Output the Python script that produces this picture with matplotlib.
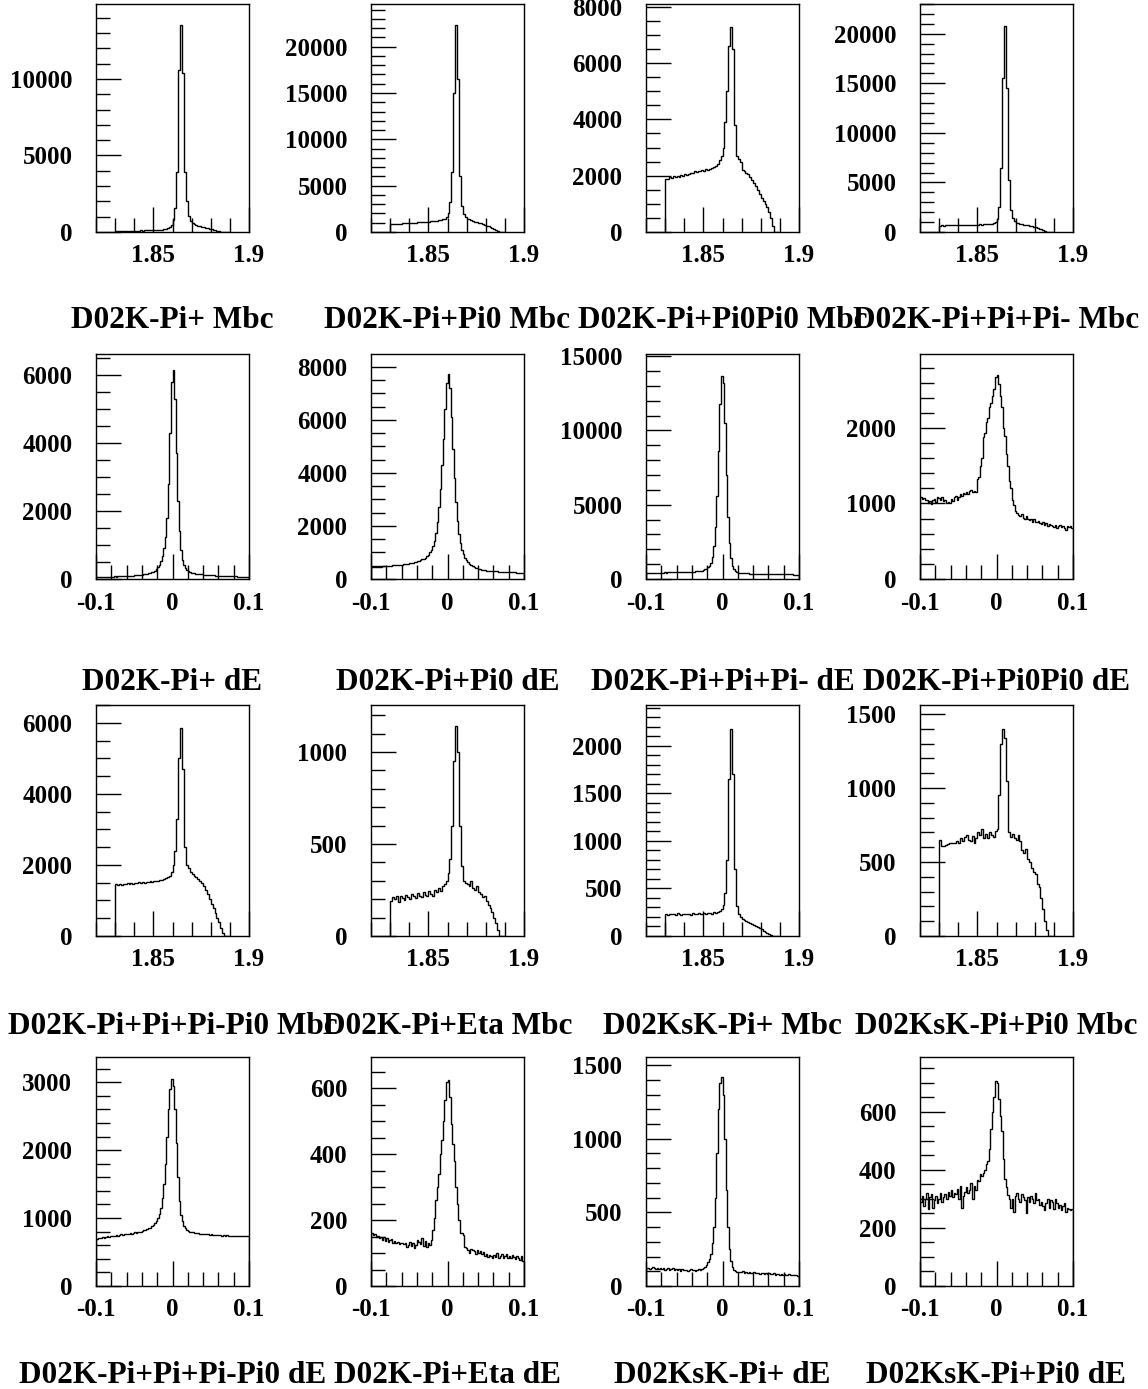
import numpy as np
import matplotlib
matplotlib.use('Agg')
import matplotlib.pyplot as plt
from matplotlib.ticker import MultipleLocator, FuncFormatter

plt.rcParams['font.family'] = 'Liberation Serif'
plt.rcParams['font.weight'] = 'bold'
plt.rcParams['axes.unicode_minus'] = False

# bin edges: Mbc 60 bins 1.83-1.89, dE 100 bins -0.1..0.1
mbc_edges = np.linspace(1.83, 1.89, 61)
de_edges = np.linspace(-0.1, 0.1, 101)

# ---- Mbc histograms (60 bins) ----
kpi_mbc = [70, 75, 70, 80, 75, 80, 85, 80, 90, 85,
           90, 95, 90, 100, 95, 105, 100, 110, 115, 120,
           125, 130, 140, 150, 160, 180, 200, 240, 300, 450,
           800, 1600, 3900, 10600, 13550, 10400, 3900, 2000, 1050, 700,
           600, 520, 460, 410, 370, 330, 300, 270, 240, 210,
           180, 150, 120, 90, 60, 30, 10, 0, 0, 0]
kpipi0_mbc = [850, 860, 880, 870, 900, 910, 920, 930, 950, 960,
              980, 990, 1000, 1020, 1030, 1050, 1060, 1080, 1100, 1120,
              1130, 1150, 1180, 1200, 1220, 1250, 1300, 1350, 1450, 1650,
              2100, 3200, 6500, 15000, 22300, 16500, 6000, 2800, 1900, 1600,
              1450, 1350, 1280, 1200, 1130, 1060, 990, 920, 850, 780,
              700, 620, 530, 430, 320, 200, 60, 0, 0, 0]
kpipi0pi0_mbc = [1870, 1900, 1950, 1930, 1980, 1960, 2000, 1970, 2010, 1990,
                 2050, 2030, 2050, 2100, 2080, 2150, 2130, 2180, 2150, 2200,
                 2170, 2230, 2200, 2250, 2280, 2300, 2350, 2400, 2550, 2700,
                 3000, 3900, 5000, 6600, 7300, 6500, 3800, 2700, 2600, 2500,
                 2200, 2150, 2100, 2050, 1950, 1850, 1750, 1650, 1500, 1350,
                 1200, 1100, 1000, 900, 700, 500, 200, 0, 0, 0]
k3pi_mbc = [650, 660, 650, 670, 660, 680, 670, 690, 680, 700,
            690, 700, 710, 700, 720, 710, 730, 720, 740, 730,
            750, 760, 750, 770, 780, 790, 800, 830, 880, 980,
            1300, 2500, 6500, 15500, 20800, 14500, 5200, 2200, 1400, 1100,
            950, 880, 830, 790, 750, 710, 670, 620, 570, 520,
            460, 400, 330, 260, 180, 100, 30, 0, 0, 0]
k3pipi0_mbc = [1450, 1430, 1460, 1440, 1470, 1450, 1480, 1460, 1490, 1470,
               1500, 1480, 1510, 1490, 1520, 1500, 1530, 1510, 1540, 1520,
               1550, 1540, 1560, 1570, 1580, 1600, 1620, 1650, 1700, 1800,
               2000, 2400, 3300, 5000, 5850, 4700, 2500, 2000, 1900, 1800,
               1750, 1700, 1650, 1600, 1540, 1480, 1400, 1300, 1180, 1050,
               900, 780, 650, 520, 380, 230, 80, 0, 0, 0]
kpieta_mbc = [190, 210, 200, 220, 185, 215, 205, 195, 225, 210,
              200, 230, 215, 205, 235, 220, 210, 240, 225, 215,
              245, 230, 220, 250, 240, 260, 245, 270, 280, 300,
              340, 420, 600, 950, 1140, 1000, 600, 380, 300, 290,
              280, 270, 300, 260, 250, 270, 240, 230, 210, 220,
              190, 170, 150, 130, 100, 70, 30, 0, 0, 0]
kskpi_mbc = [230, 225, 235, 228, 232, 225, 238, 230, 226, 234,
             228, 236, 230, 225, 240, 232, 228, 238, 230, 235,
             240, 230, 238, 245, 235, 250, 240, 255, 260, 280,
             330, 450, 800, 1650, 2180, 1700, 700, 320, 230, 200,
             180, 170, 160, 150, 140, 130, 120, 110, 95, 80,
             70, 55, 40, 30, 20, 10, 0, 0, 0, 0]
kskpipi0_mbc = [645, 605, 610, 615, 620, 625, 630, 625, 630, 640,
                630, 660, 640, 670, 680, 650, 640, 675, 625, 660,
                700, 680, 720, 660, 690, 665, 700, 680, 670, 710,
                720, 950, 1300, 1400, 1340, 1050, 700, 670, 690, 660,
                650, 680, 640, 580, 560, 590, 520, 500, 460, 430,
                420, 350, 330, 260, 180, 100, 40, 0, 0, 0]

# ---- dE histograms (100 bins) ----
kpi_de = [60, 60, 55, 60, 65, 60, 60, 65, 70, 65,
          70, 70, 75, 70, 75, 80, 80, 85, 80, 85,
          90, 90, 95, 100, 100, 105, 110, 115, 120, 125,
          130, 140, 150, 160, 170, 185, 200, 220, 250, 290,
          340, 420, 520, 680, 900, 1250, 1800, 2800, 4300, 5800,
          6150, 5300, 3700, 2300, 1400, 850, 550, 400, 320, 270,
          230, 210, 190, 180, 170, 160, 150, 145, 140, 135,
          130, 125, 120, 120, 115, 110, 110, 105, 100, 100,
          95, 95, 90, 90, 85, 85, 80, 80, 80, 75,
          75, 75, 70, 70, 70, 65, 65, 65, 60, 60]
kpipi0_de = [450, 455, 460, 460, 465, 470, 470, 475, 480, 485,
             490, 495, 500, 505, 510, 515, 520, 525, 530, 540,
             545, 555, 560, 570, 580, 590, 600, 615, 630, 645,
             665, 685, 710, 740, 770, 810, 860, 920, 1000, 1100,
             1250, 1450, 1750, 2150, 2700, 3400, 4300, 5300, 6400, 7400,
             7750, 7200, 6100, 4900, 3800, 2900, 2200, 1700, 1350, 1100,
             930, 800, 700, 630, 570, 520, 480, 450, 420, 400,
             380, 365, 350, 340, 330, 320, 315, 310, 305, 300,
             295, 290, 285, 280, 280, 275, 270, 270, 265, 260,
             260, 255, 255, 250, 250, 245, 245, 240, 240, 235]
k3pi_de = [420, 420, 425, 420, 425, 430, 425, 430, 430, 435,
           430, 435, 440, 435, 440, 445, 440, 445, 450, 450,
           455, 455, 460, 460, 465, 470, 470, 475, 480, 485,
           490, 500, 510, 520, 530, 550, 570, 600, 640, 700,
           780, 900, 1100, 1500, 2200, 3500, 5600, 8600, 11800, 13700,
           13200, 10500, 7000, 4200, 2400, 1400, 900, 650, 520, 460,
           430, 410, 400, 390, 385, 380, 375, 370, 365, 360,
           360, 355, 350, 350, 345, 345, 340, 340, 335, 335,
           330, 330, 330, 325, 325, 320, 320, 320, 315, 315,
           315, 310, 310, 310, 305, 305, 300, 300, 300, 295]
kpipi0pi0_de = [1080, 1060, 1070, 1040, 1050, 1010, 1030, 990, 1050, 1060,
                1020, 1090, 1070, 1040, 1080, 1030, 1050, 1010, 1020, 1000,
                1060, 1030, 1080, 1100, 1050, 1090, 1120, 1100, 1140, 1130,
                1150, 1120, 1160, 1180, 1150, 1170, 1150, 1320, 1350, 1500,
                1600, 1880, 1930, 2080, 2130, 2280, 2330, 2420, 2520, 2680,
                2700, 2580, 2430, 2280, 2000, 1900, 1650, 1500, 1300, 1200,
                1050, 980, 900, 870, 850, 830, 860, 810, 800, 830,
                790, 780, 800, 760, 790, 760, 750, 770, 740, 730,
                760, 720, 740, 700, 730, 710, 700, 690, 720, 680,
                700, 710, 690, 700, 680, 650, 700, 690, 700, 680]
k3pipi0_de = [690, 700, 710, 700, 720, 710, 720, 730, 720, 730,
              740, 730, 740, 750, 740, 750, 760, 750, 760, 770,
              760, 770, 780, 770, 780, 790, 780, 800, 790, 800,
              810, 820, 830, 840, 850, 860, 880, 900, 930, 960,
              1000, 1060, 1150, 1300, 1500, 1800, 2200, 2600, 2900, 3050,
              2950, 2600, 2100, 1600, 1250, 1050, 950, 890, 850, 830,
              810, 800, 790, 790, 780, 780, 775, 770, 770, 765,
              770, 760, 765, 760, 755, 760, 750, 755, 750, 745,
              750, 745, 740, 750, 740, 745, 735, 740, 735, 740,
              735, 740, 730, 735, 730, 740, 730, 735, 730, 740]
kpieta_de = [160, 155, 158, 150, 152, 145, 150, 140, 148, 138,
             145, 135, 140, 142, 130, 138, 132, 135, 128, 130,
             132, 128, 130, 118, 125, 135, 120, 130, 115, 125,
             140, 135, 128, 145, 120, 138, 118, 130, 125, 140,
             170, 205, 260, 300, 341, 400, 442, 500, 563, 620,
             624, 574, 493, 432, 380, 300, 250, 200, 160, 160,
             155, 119, 115, 110, 100, 112, 108, 105, 98, 110,
             100, 105, 96, 102, 92, 98, 88, 95, 90, 85,
             95, 88, 100, 85, 92, 96, 84, 90, 98, 86,
             92, 85, 95, 88, 82, 90, 86, 80, 92, 75]
kskpi_de = [120, 125, 118, 122, 130, 120, 115, 125, 118, 122,
            115, 120, 112, 118, 125, 110, 115, 120, 108, 115,
            112, 118, 105, 115, 110, 108, 112, 105, 110, 115,
            108, 112, 105, 110, 115, 110, 118, 125, 130, 140,
            160, 180, 220, 290, 400, 600, 900, 1200, 1380, 1420,
            1300, 1000, 650, 400, 250, 170, 130, 110, 100, 95,
            98, 92, 95, 100, 90, 95, 88, 92, 90, 85,
            92, 88, 85, 90, 84, 88, 85, 82, 88, 80,
            85, 82, 80, 86, 78, 82, 80, 78, 84, 76,
            80, 78, 75, 80, 76, 74, 78, 72, 76, 70]
kskpipi0_de = [290, 310, 275, 300, 320, 265, 305, 315, 270, 295,
               310, 285, 300, 320, 290, 305, 315, 300, 325, 310,
               330, 305, 320, 315, 335, 300, 345, 270, 310, 325,
               340, 320, 330, 355, 300, 345, 330, 365, 360, 385,
               380, 390, 400, 420, 430, 470, 540, 600, 650, 706,
               700, 643, 586, 535, 437, 369, 340, 312, 300, 270,
               300, 255, 310, 320, 300, 290, 315, 305, 295, 250,
               305, 290, 310, 300, 285, 320, 295, 300, 280, 290,
               275, 260, 285, 300, 270, 295, 290, 265, 300, 285,
               270, 280, 260, 275, 285, 255, 270, 265, 260, 265]

titles = ["D02K-Pi+ Mbc", "D02K-Pi+Pi0 Mbc", "D02K-Pi+Pi0Pi0 Mbc", "D02K-Pi+Pi+Pi- Mbc",
          "D02K-Pi+ dE", "D02K-Pi+Pi0 dE", "D02K-Pi+Pi+Pi- dE", "D02K-Pi+Pi0Pi0 dE",
          "D02K-Pi+Pi+Pi-Pi0 Mbc", "D02K-Pi+Eta Mbc", "D02KsK-Pi+ Mbc", "D02KsK-Pi+Pi0 Mbc",
          "D02K-Pi+Pi+Pi-Pi0 dE", "D02K-Pi+Eta dE", "D02KsK-Pi+ dE", "D02KsK-Pi+Pi0 dE"]
hists = [kpi_mbc, kpipi0_mbc, kpipi0pi0_mbc, k3pi_mbc,
         kpi_de, kpipi0_de, k3pi_de, kpipi0pi0_de,
         k3pipi0_mbc, kpieta_mbc, kskpi_mbc, kskpipi0_mbc,
         k3pipi0_de, kpieta_de, kskpi_de, kskpipi0_de]
y_tops = [14900, 24600, 8100, 23000,
          6620, 8490, 15150, 2980,
          6500, 1255, 2430, 1560,
          3370, 695, 1555, 788]
y_major = [5000, 5000, 2000, 5000,
           2000, 2000, 5000, 1000,
           2000, 500, 500, 500,
           1000, 200, 500, 200]
y_minor = [1000, 1000, 500, 1000,
           500, 500, 1000, 200,
           500, 100, 100, 100,
           200, 50, 100, 50]

# layout in pixels
W, H = 1148, 1389
col_left = [96, 371, 646, 920]
ax_w = 153
row_top = [4, 354, 705, 1057]
row_bot = [232, 579, 936, 1286]
title_base = [328, 690, 1034, 1383]

fig = plt.figure(figsize=(W / 100, H / 100), dpi=100)
fig.patch.set_facecolor('white')

fmt = FuncFormatter(lambda v, p: f"{v:g}")

for k in range(16):
    r, c = divmod(k, 4)
    x0 = col_left[c]
    ax = fig.add_axes([x0 / W, 1 - row_bot[r] / H, ax_w / W, (row_bot[r] - row_top[r]) / H])
    is_mbc = r in (0, 2)
    edges = mbc_edges if is_mbc else de_edges
    ax.stairs(hists[k], edges, color='black', lw=1.0, baseline=0)

    if is_mbc:
        ax.set_xlim(1.82, 1.90)
        ax.xaxis.set_major_locator(MultipleLocator(0.05))
        ax.xaxis.set_minor_locator(MultipleLocator(0.01))
    else:
        ax.set_xlim(-0.1, 0.1)
        ax.xaxis.set_major_locator(MultipleLocator(0.1))
        ax.xaxis.set_minor_locator(MultipleLocator(0.02))
    ax.set_ylim(0, y_tops[k])
    ax.yaxis.set_major_locator(MultipleLocator(y_major[k]))
    ax.yaxis.set_minor_locator(MultipleLocator(y_minor[k]))
    ax.xaxis.set_major_formatter(fmt)
    ax.yaxis.set_major_formatter(fmt)

    ax.tick_params(which='both', direction='in', top=False, right=False,
                   width=1, labelsize=18, color='black')
    ax.tick_params(which='major', length=18)
    ax.tick_params(which='minor', length=10)
    ax.tick_params(axis='y', which='major', pad=17)
    ax.tick_params(axis='x', which='major', pad=9)
    for lab in ax.get_xticklabels() + ax.get_yticklabels():
        lab.set_fontweight('bold')
    for sp in ax.spines.values():
        sp.set_linewidth(1.0)
        sp.set_color('black')

    fig.text((x0 + ax_w / 2) / W, 1 - title_base[r] / H, titles[k],
             ha='center', va='baseline', fontsize=22.5, fontweight='bold')

fig.savefig('out.png', dpi=100, facecolor='white')
